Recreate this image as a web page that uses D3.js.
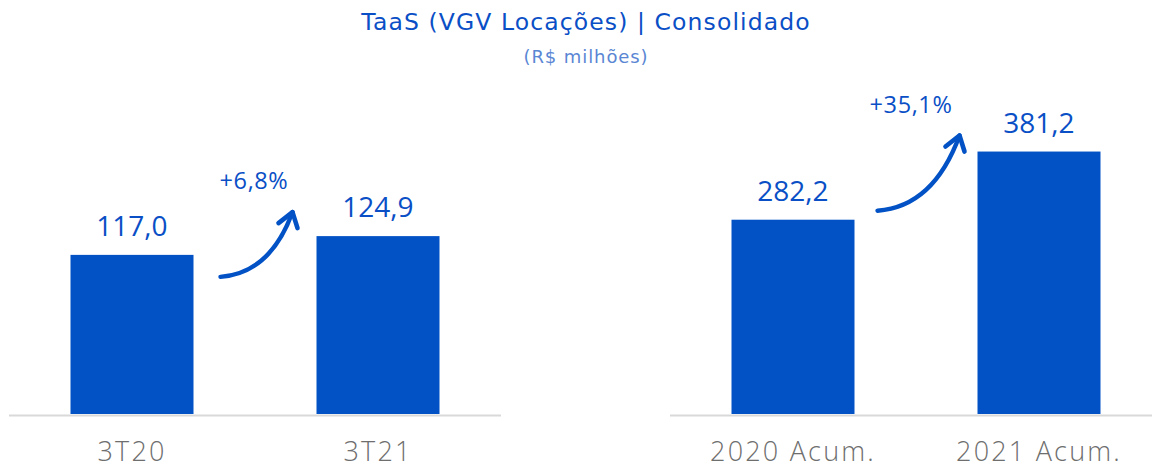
<!DOCTYPE html>
<html>
<head>
<meta charset="utf-8">
<script src="https://cdn.jsdelivr.net/npm/d3@7"></script>
<style>
  html, body { margin: 0; padding: 0; background: #fff; }
  svg { display: block; }
</style>
</head>
<body>
<svg id="chart" width="1152" height="468"></svg>
<script>
// ---- data ----
const titleText = "TaaS (VGV Locações) | Consolidado";
const subtitleText = "(R$ milhões)";
const leftCategories = ["3T20", "3T21"];
const leftValues = [117.0, 124.9];
const leftGrowth = "+6,8%";
const leftDomain = [50, 140];
const rightCategories = ["2020 Acum.", "2021 Acum."];
const rightValues = [282.2, 381.2];
const rightGrowth = "+35,1%";
const rightDomain = [0, 500];

// ---- style ----
const FONT = "'Open Sans', 'Noto Sans', sans-serif";
const WIDE = "'DejaVu Sans', 'Open Sans', sans-serif";
const BLUE = "#0252c6";
const TEXT_BLUE = "#0a4fc6";
const SUB_BLUE = "#5a86d4";
const GREY = "#6e6e6e";
const AXIS = "#d9d9d9";

const svg = d3.select("#chart");
const fmt = v => d3.format(".1f")(v).replace(".", ",");

svg.append("text").attr("x", 586).attr("y", 30).attr("text-anchor", "middle")
  .attr("font-family", WIDE).attr("font-size", 23.5).attr("letter-spacing", 1.1)
  .attr("fill", TEXT_BLUE).text(titleText);
svg.append("text").attr("x", 586).attr("y", 63).attr("text-anchor", "middle")
  .attr("font-family", WIDE).attr("font-size", 18).attr("letter-spacing", 0.9)
  .attr("fill", SUB_BLUE).text(subtitleText);

const baseY = 414;

function panel(cfg) {
  const x = d3.scaleBand().domain(cfg.categories).range(cfg.xRange)
    .paddingInner(0.5).paddingOuter(0.25);
  const y = d3.scaleLinear().domain(cfg.domain).range([baseY, baseY - cfg.pxHeight]);
  const g = svg.append("g");
  const data = cfg.categories.map((c, i) => ({ c, v: cfg.values[i] }));

  g.selectAll("rect.bar").data(data).join("rect").attr("class", "bar")
    .attr("x", d => x(d.c)).attr("width", x.bandwidth())
    .attr("y", d => y(d.v)).attr("height", d => y(cfg.domain[0]) - y(d.v))
    .attr("fill", BLUE);

  // baseline (category axis)
  const axis = d3.axisBottom(x).tickSize(0).tickPadding(0);
  const ag = g.append("g").attr("transform", `translate(0,${baseY + 1.5})`).call(axis);
  ag.select(".domain").attr("stroke", AXIS).attr("stroke-width", 2)
    .attr("d", `M${cfg.lineRange[0]},0H${cfg.lineRange[1]}`);
  ag.selectAll(".tick text").attr("font-family", FONT).attr("font-size", 27)
    .attr("font-weight", 300).attr("letter-spacing", 2.2).attr("fill", GREY)
    .attr("y", 45.5).attr("dy", 0);

  // value labels
  g.selectAll("text.val").data(data).join("text").attr("class", "val")
    .attr("x", d => x(d.c) + x.bandwidth() / 2).attr("y", d => y(d.v) - 19)
    .attr("text-anchor", "middle").attr("font-family", FONT).attr("font-size", 28)
    .attr("fill", TEXT_BLUE).text(d => fmt(d.v));

  // growth arrow
  const x0 = x(data[0].c) + x.bandwidth(), y0 = y(data[0].v);
  const x1 = x(data[1].c), y1 = y(data[1].v);
  const a = cfg.arrow;
  const sx = x0 + a.sdx, sy = y0 + a.sdy;
  const tx = x1 + a.tdx, ty = y1 + a.tdy;
  const cx = tx - a.cdx, cy = sy - a.cdy;
  const path = d3.path();
  path.moveTo(sx, sy);
  path.quadraticCurveTo(cx, cy, tx, ty);
  g.append("path").attr("d", path.toString()).attr("fill", "none")
    .attr("stroke", BLUE).attr("stroke-width", 4.4).attr("stroke-linecap", "round");
  const head = d3.path();
  head.moveTo(tx - 14, ty + 11);
  head.lineTo(tx, ty);
  head.lineTo(tx + 5, ty + 16);
  g.append("path").attr("d", head.toString()).attr("fill", "none")
    .attr("stroke", BLUE).attr("stroke-width", 4.6).attr("stroke-linecap", "round")
    .attr("stroke-linejoin", "round");

  const mid = (x(data[0].c) + x(data[1].c) + x.bandwidth()) / 2;
  g.append("text").attr("x", mid + a.ldx).attr("y", ty - 23).attr("text-anchor", "middle")
    .attr("font-family", FONT).attr("font-size", 23.5).attr("letter-spacing", 0.6)
    .attr("fill", TEXT_BLUE).text(cfg.growth);
}

panel({ categories: leftCategories, values: leftValues, domain: leftDomain,
  xRange: [9, 501], lineRange: [9, 501], pxHeight: 90 * 2.375, growth: leftGrowth,
  arrow: { sdx: 27, sdy: 22, tdx: -24, tdy: -24, cdx: 22, cdy: 4, ldx: -1 } });
panel({ categories: rightCategories, values: rightValues, domain: rightDomain,
  xRange: [670, 1162], lineRange: [670, 1152], pxHeight: 500 * 0.6885, growth: rightGrowth,
  arrow: { sdx: 23, sdy: -9, tdx: -18, tdy: -16, cdx: 26, cdy: 4, ldx: -5 } });
</script>
</body>
</html>
